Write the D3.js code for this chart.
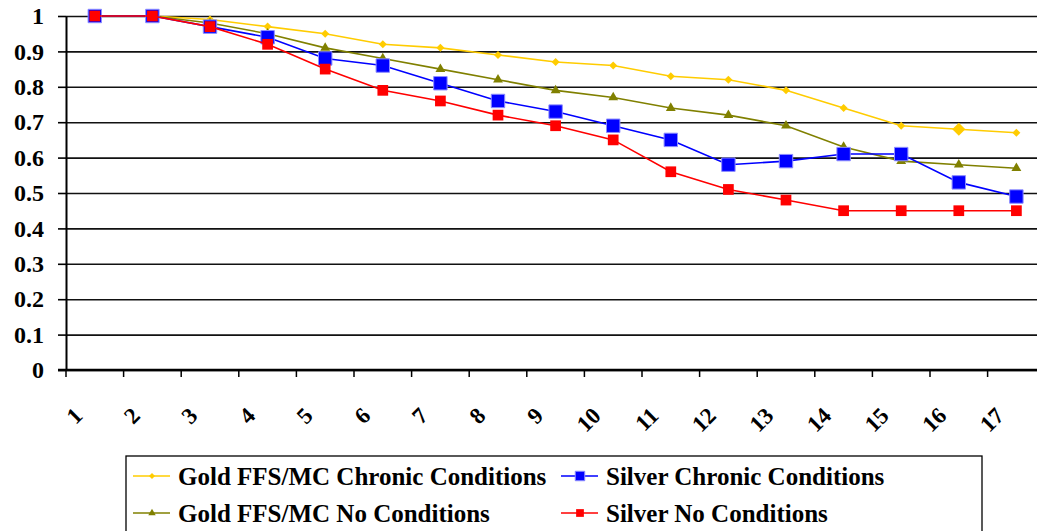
<!DOCTYPE html>
<html>
<head>
<meta charset="utf-8">
<script src="https://cdn.jsdelivr.net/npm/d3@7"></script>
<style>
  body { margin: 0; background: #fff; }
  svg { display: block; }
  svg text { font-family: "Liberation Serif", "Tinos", "Times New Roman", "DejaVu Serif", serif; font-weight: bold; }
</style>
</head>
<body>
<svg></svg>
<script>
// chart values
var categories = ['1', '2', '3', '4', '5', '6', '7', '8', '9', '10', '11', '12', '13', '14', '15', '16', '17'];
var yTicks = [0, 0.1, 0.2, 0.3, 0.4, 0.5, 0.6, 0.7, 0.8, 0.9, 1];

var seriesNames = ['Gold FFS/MC Chronic Conditions', 'Silver Chronic Conditions',
                   'Gold FFS/MC No Conditions', 'Silver No Conditions'];
var goldChronic = [1, 1, 0.99, 0.97, 0.95, 0.92, 0.91, 0.89, 0.87, 0.86, 0.83, 0.82, 0.79, 0.74, 0.69, 0.68, 0.67];
var goldNone = [1, 1, 0.98, 0.95, 0.91, 0.88, 0.85, 0.82, 0.79, 0.77, 0.74, 0.72, 0.69, 0.63, 0.59, 0.58, 0.57];
var silverChronic = [1, 1, 0.97, 0.94, 0.88, 0.86, 0.81, 0.76, 0.73, 0.69, 0.65, 0.58, 0.59, 0.61, 0.61, 0.53, 0.49];
var silverNone = [1, 1, 0.97, 0.92, 0.85, 0.79, 0.76, 0.72, 0.69, 0.65, 0.56, 0.51, 0.48, 0.45, 0.45, 0.45, 0.45];

document.addEventListener('DOMContentLoaded', function() {

  var width = 1037;
  var height = 531;
  var svg = d3.select('svg')
                .attr('width', width)
                .attr('height', height);

  var left = 66, top = 16, bottom = 370;
  var step = 57.6;

  var x = d3.scaleBand()
    .domain(categories)
    .range([left, left + step * categories.length]);

  var y = d3.scaleLinear()
    .domain([0, 1])
    .range([bottom, top]);

  // gridlines
  svg.append('g')
    .attr('transform', 'translate(' + left + ',0)')
    .call(d3.axisLeft(y).tickValues(yTicks).tickSize(-(width - left)).tickFormat(''))
    .call(g => g.select('.domain').remove())
    .call(g => g.selectAll('line').attr('stroke', '#111').attr('stroke-width', 1.6));

  // y axis with labels
  svg.append('g')
    .attr('transform', 'translate(' + left + ',0)')
    .call(d3.axisLeft(y).tickValues(yTicks).tickSize(8).tickSizeOuter(0).tickPadding(14).tickFormat(d3.format('~g')))
    .attr('font-family', null)
    .call(g => g.select('.domain').attr('stroke', '#000').attr('stroke-width', 2))
    .call(g => g.selectAll('line').attr('stroke', '#000').attr('stroke-width', 1.6))
    .call(g => g.selectAll('text')
      .attr('font-size', 24)
      .attr('fill', '#000'));

  // x axis: baseline, ticks at category boundaries, rotated labels
  svg.append('line')
    .attr('x1', left - 8).attr('x2', width)
    .attr('y1', y(0)).attr('y2', y(0))
    .attr('stroke', '#000').attr('stroke-width', 2.6);

  svg.append('g').selectAll('line')
    .data(categories)
    .enter().append('line')
      .attr('x1', d => x(d)).attr('x2', d => x(d))
      .attr('y1', y(0)).attr('y2', y(0) + 7)
      .attr('stroke', '#000').attr('stroke-width', 1.5);

  svg.append('g').selectAll('text')
    .data(categories)
    .enter().append('text')
      .attr('transform', d => 'translate(' + (x(d) + x.bandwidth() / 2 - 11) + ',417) rotate(-45)')
      .attr('text-anchor', 'end')
      .attr('font-size', 23)
      .text(d => d);

  var series = [
    { name: seriesNames[0], values: goldChronic, color: '#ffcc00', symbol: d3.symbolSquare, size: 32, rot: 45, stroke: 'none', legendSize: 18 },
    { name: seriesNames[2], values: goldNone, color: '#808000', symbol: d3.symbolTriangle, size: 42, rot: 0, stroke: 'none', legendSize: 24 },
    { name: seriesNames[1], values: silverChronic, color: '#0000ff', symbol: d3.symbolSquare, size: 180, rot: 0, stroke: '#8c8cff', legendSize: 90 },
    { name: seriesNames[3], values: silverNone, color: '#ff0000', symbol: d3.symbolSquare, size: 115, rot: 0, stroke: 'none', legendSize: 60 }
  ];

  var line = d3.line()
    .x((d, i) => x(categories[i]) + x.bandwidth() / 2)
    .y(d => y(d));

  series.forEach(function(s) {
    var g = svg.append('g');
    g.append('path')
      .datum(s.values)
      .attr('d', line)
      .attr('fill', 'none')
      .attr('stroke', s.color)
      .attr('stroke-width', 1.6);

    // the reference draws one bigger diamond at point 16 of the first series
    g.selectAll('path.mark')
      .data(s.values)
      .enter().append('path')
        .attr('class', 'mark')
        .attr('d', (d, i) => d3.symbol(s.symbol, (s.name === seriesNames[0] && i === 15) ? 85 : s.size)())
        .attr('transform', (d, i) => 'translate(' + (x(categories[i]) + x.bandwidth() / 2) + ',' + y(d) + ') rotate(' + s.rot + ')')
        .attr('fill', s.color)
        .attr('stroke', s.stroke)
        .attr('stroke-width', 1);
  });

  // legend
  var legend = svg.append('g');
  legend.append('rect')
    .attr('x', 126).attr('y', 456)
    .attr('width', 856).attr('height', 90)
    .attr('fill', '#fff')
    .attr('stroke', '#000')
    .attr('stroke-width', 1.3);

  var legendPos = [[133, 476], [561, 476], [133, 513], [561, 513]];
  var legendOrder = [series[0], series[2], series[1], series[3]];

  legendOrder.forEach(function(s, i) {
    var p = legendPos[i];
    var item = legend.append('g').attr('transform', 'translate(' + p[0] + ',' + p[1] + ')');
    item.append('line')
      .attr('x1', 0).attr('x2', 37)
      .attr('stroke', s.color).attr('stroke-width', 1.6);
    item.append('path')
      .attr('d', d3.symbol(s.symbol, s.legendSize)())
      .attr('transform', 'translate(19,0) rotate(' + s.rot + ')')
      .attr('fill', s.color)
      .attr('stroke', s.stroke);
    item.append('text')
      .attr('x', 45)
      .attr('y', 9)
      .attr('font-size', 25)
      .attr('fill', '#000')
      .text(s.name);
  });

});
</script>
</body>
</html>
